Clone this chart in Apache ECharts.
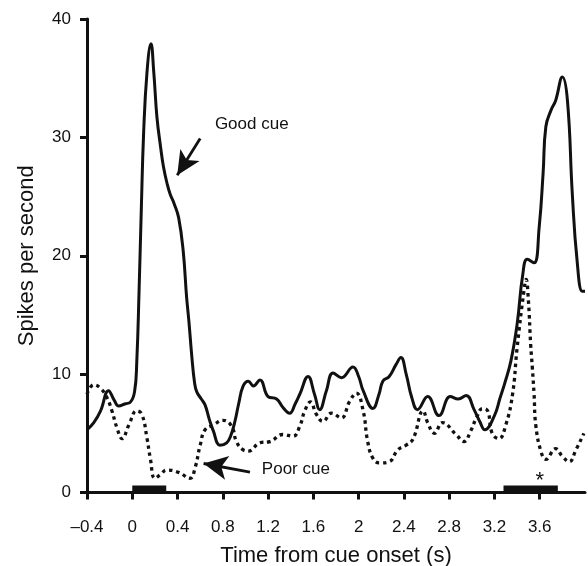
<!DOCTYPE html>
<html>
<head>
<meta charset="utf-8">
<script src="https://cdn.jsdelivr.net/npm/echarts@6/dist/echarts.min.js"></script>
<style>
html,body{margin:0;padding:0;background:#fff;}
#chart{width:588px;height:566px;}
</style>
</head>
<body>
<div id="chart"></div>
<script>
// Good cue (solid) — time (s) and spikes per second
var goodTimes = [-0.4,-0.34,-0.28,-0.21,-0.16,-0.12,-0.06,-0.02,0.02,0.04,0.06,0.08,0.1,0.13,0.165,0.19,0.218,0.25,0.276,0.31,0.335,0.37,0.41,0.45,0.48,0.5,0.526,0.55,0.57,0.61,0.643,0.68,0.716,0.775,0.834,0.87,0.907,0.94,0.98,1.025,1.07,1.128,1.2,1.275,1.33,1.39,1.44,1.48,1.553,1.61,1.656,1.715,1.774,1.847,1.95,2.0,2.04,2.126,2.18,2.214,2.27,2.33,2.373,2.42,2.47,2.52,2.61,2.71,2.81,2.88,2.95,3.02,3.07,3.115,3.2,3.25,3.29,3.345,3.4,3.45,3.49,3.55,3.595,3.63,3.654,3.7,3.74,3.8,3.845,3.888,3.93,3.976,4.0];
var goodRates = [5.3,5.9,6.9,8.6,7.8,7.3,7.5,7.6,8.5,11.1,17,24,30.3,35.5,37.9,35.5,31.7,29.2,27.5,26,25.2,24.4,23.2,20.4,16.5,14.5,11.5,9.3,8.5,7.9,7.4,6.2,5.2,4.0,4.2,4.8,6.0,7.5,9.0,9.4,9.0,9.5,8.1,7.9,7.2,6.7,7.5,8.3,9.8,8.3,7.0,8.6,10.1,9.7,10.6,9.8,8.6,7.1,8.3,9.4,9.8,10.8,11.4,10.0,8.0,7.0,8.1,6.5,8.1,7.9,8.2,7.0,6.0,5.3,6.5,8.0,9.2,11.1,14.2,18.4,19.7,19.4,22.4,27,30.9,32.3,33.1,35.1,33.1,25.2,19.6,17.0,17.0];

// Poor cue (dotted)
var poorTimes = [-0.4,-0.34,-0.28,-0.223,-0.18,-0.135,-0.09,-0.03,0.04,0.085,0.13,0.159,0.2,0.247,0.306,0.41,0.51,0.555,0.6,0.643,0.716,0.8,0.878,0.92,0.98,1.025,1.128,1.216,1.33,1.42,1.48,1.524,1.574,1.627,1.685,1.76,1.847,1.92,1.98,2.04,2.08,2.126,2.185,2.27,2.346,2.42,2.48,2.57,2.61,2.67,2.74,2.86,2.93,2.99,3.04,3.095,3.14,3.18,3.24,3.3,3.36,3.4,3.46,3.48,3.5,3.52,3.535,3.55,3.565,3.61,3.654,3.74,3.8,3.86,3.92,3.99];
var poorRates = [8.3,9.1,8.8,8.0,6.9,5.45,4.55,5.7,6.9,6.6,4.6,2.9,1.2,1.5,1.9,1.7,1.2,2.1,4.0,5.3,5.7,6.1,5.6,4.3,3.6,3.5,4.2,4.3,4.9,4.75,5.6,6.9,7.65,6.6,6.0,6.7,6.3,7.7,8.4,6.9,4.3,2.9,2.5,2.6,3.6,4.0,4.5,6.9,5.9,5.0,5.9,4.9,4.3,5.2,6.3,7.1,6.9,5.0,4.55,5.7,8.3,12.2,17.0,18.0,16.2,12.5,10.5,8.3,5.7,3.5,2.8,3.7,3.05,2.6,3.6,5.0];

// Stimulus periods (black bars on the time axis)
var cueBar = [0, 0.3];
var responseBar = [3.28, 3.76];
var barHeight = 0.6;

// Tick values
var xTicks = [-0.4,0,0.4,0.8,1.2,1.6,2,2.4,2.8,3.2,3.6];
var yTicks = [0,10,20,30,40];

// Annotations
var goodLabel = {text:'Good cue', at:[0.73, 31.1]};
var goodArrow = {from:[0.6, 29.9], to:[0.397, 26.8]};
var poorLabel = {text:'Poor cue', at:[1.145, 2.0]};
var poorArrow = {from:[1.04, 1.73], to:[0.63, 2.45]};
var starMark = {text:'*', at:[3.6, 1.33]};

function zip(a, b){ return a.map(function(v,i){ return [v, b[i]]; }); }

var FONT = '"Liberation Sans", Arial, Helvetica, sans-serif';
var chart = echarts.init(document.getElementById('chart'), null, {renderer:'canvas'});

var option = {
  animation: false,
  backgroundColor: '#fff',
  grid: {left: 87, right: 3, top: 19, bottom: 73.5, containLabel: false, outerBoundsMode: 'none'},
  xAxis: {
    type: 'value', min: -0.4, max: 4.0, interval: 0.4,
    name: 'Time from cue onset (s)', nameLocation: 'middle', nameGap: 52,
    nameTextStyle: {fontFamily: FONT, fontSize: 22, color: '#111'},
    axisLine: {show: true, onZero: false, lineStyle: {color: '#111', width: 3}},
    axisTick: {show: true, length: 7, inside: false, customValues: xTicks, lineStyle: {color: '#111', width: 3}},
    axisLabel: {customValues: xTicks, margin: 26, fontFamily: FONT, fontSize: 17, color: '#111',
      formatter: function(v){ return String(v).replace('-', '\u2013'); }},
    splitLine: {show: false}
  },
  yAxis: {
    type: 'value', min: 0, max: 40, interval: 10,
    name: 'Spikes per second', nameLocation: 'middle', nameGap: 49,
    nameTextStyle: {fontFamily: FONT, fontSize: 22, color: '#111'},
    axisLine: {show: true, onZero: false, lineStyle: {color: '#111', width: 3}},
    axisTick: {show: true, length: 7, inside: false, customValues: yTicks, lineStyle: {color: '#111', width: 3}},
    axisLabel: {customValues: yTicks, margin: 16, fontFamily: FONT, fontSize: 17, color: '#111'},
    splitLine: {show: false}
  },
  series: [
    {
      name: 'Good cue', type: 'line', data: zip(goodTimes, goodRates),
      showSymbol: false, smooth: 0.45, z: 3,
      lineStyle: {color: '#111', width: 3},
      markPoint: {
        symbol: 'circle', symbolSize: 0, silent: true,
        data: [
          {coord: goodLabel.at, value: goodLabel.text,
            label: {show: true, formatter: goodLabel.text, position: 'right', distance: 0,
              fontFamily: FONT, fontSize: 17, color: '#111'}}
        ]
      },
      markLine: {
        silent: true, symbol: ['none', 'arrow'], symbolSize: [17, 24],
        label: {show: false},
        lineStyle: {color: '#111', width: 2.8, type: 'solid'},
        data: [[{coord: goodArrow.from}, {coord: goodArrow.to}]]
      }
    },
    {
      name: 'Poor cue', type: 'line', data: zip(poorTimes, poorRates),
      showSymbol: false, smooth: 0.45, z: 2,
      lineStyle: {color: '#111', width: 3.3, type: [3.5, 3.8]},
      markPoint: {
        symbol: 'circle', symbolSize: 0, silent: true,
        data: [
          {coord: poorLabel.at, value: poorLabel.text,
            label: {show: true, formatter: poorLabel.text, position: 'right', distance: 0,
              fontFamily: FONT, fontSize: 17, color: '#111'}},
          {coord: starMark.at, value: starMark.text,
            label: {show: true, formatter: starMark.text, position: 'inside', offset: [0, 4],
              fontFamily: FONT, fontSize: 22, color: '#111'}}
        ]
      },
      markLine: {
        silent: true, symbol: ['none', 'arrow'], symbolSize: [18, 24],
        label: {show: false},
        lineStyle: {color: '#111', width: 2.8, type: 'solid'},
        data: [[{coord: poorArrow.from}, {coord: poorArrow.to}]]
      },
      markArea: {
        silent: true,
        itemStyle: {color: '#111', opacity: 1},
        data: [
          [{coord: [cueBar[0], 0]}, {coord: [cueBar[1], barHeight]}],
          [{coord: [responseBar[0], 0]}, {coord: [responseBar[1], barHeight]}]
        ]
      }
    }
  ]
};
chart.setOption(option);
</script>
</body>
</html>
